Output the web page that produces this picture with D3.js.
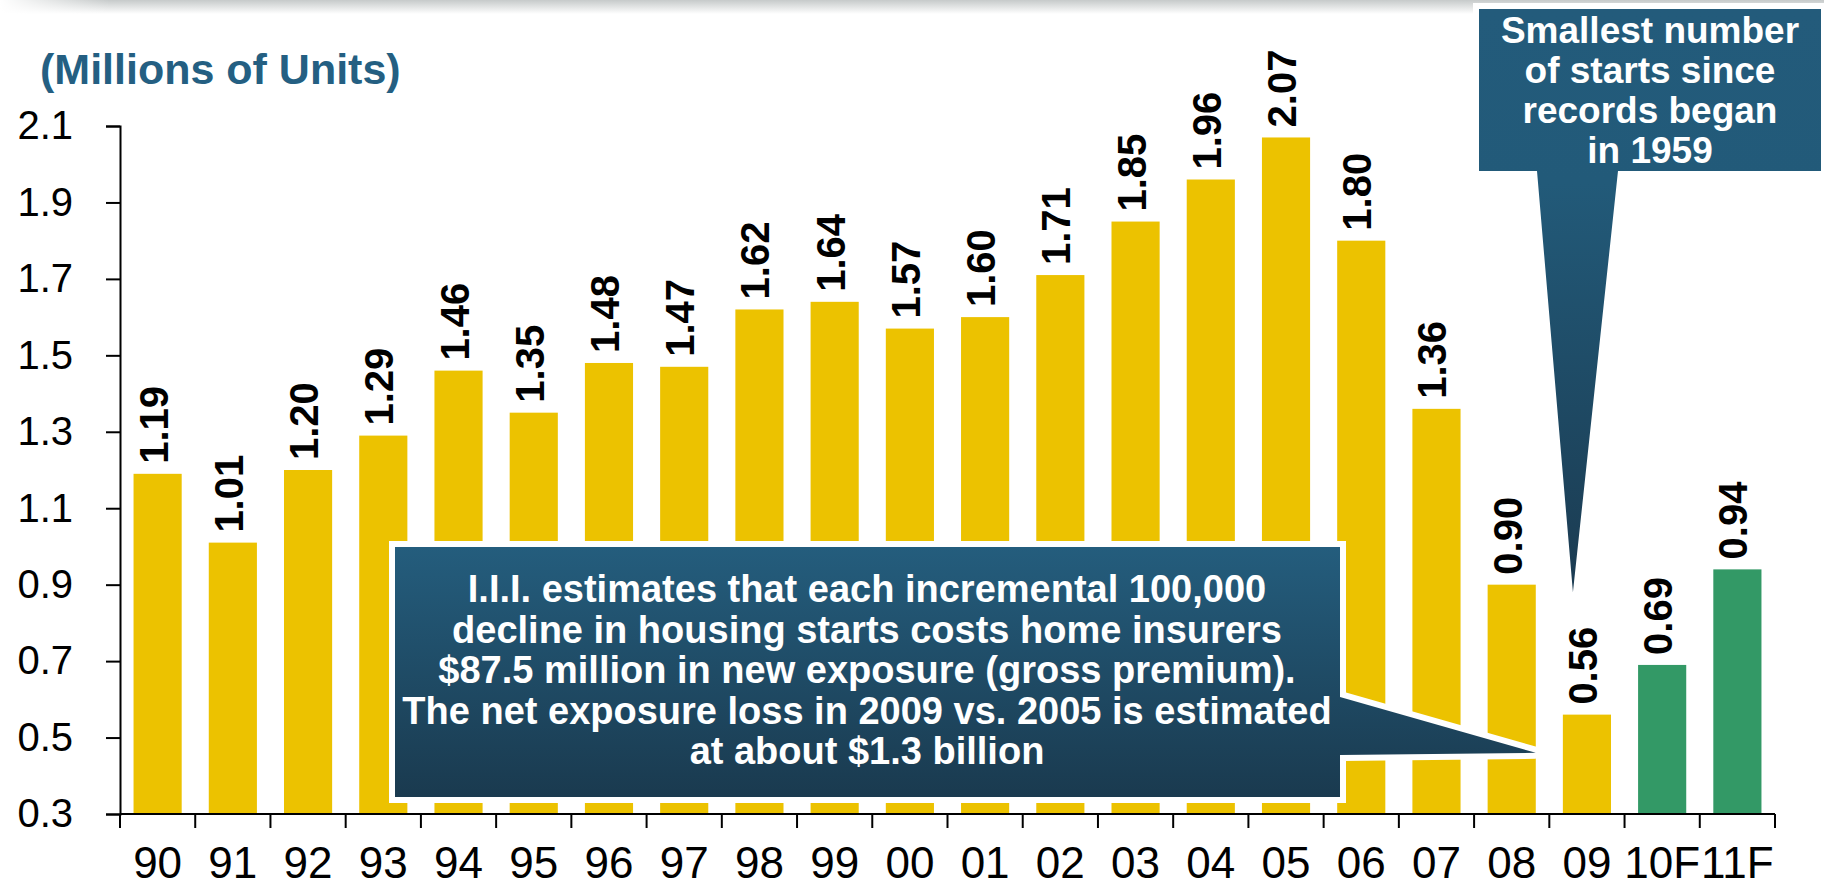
<!DOCTYPE html>
<html>
<head>
<meta charset="utf-8">
<script src="https://cdn.jsdelivr.net/npm/d3@7"></script>
<style>
  body { margin: 0; background: #fff; }
  text { font-family: "Liberation Sans", Arial, Helvetica, sans-serif; }
</style>
</head>
<body>
<script>
// housing starts per jaar (miljoenen)
var years = ["90","91","92","93","94","95","96","97","98","99","00","01","02","03","04","05","06","07","08","09","10F","11F"]
var starts = [1.19,1.01,1.20,1.29,1.46,1.35,1.48,1.47,1.62,1.64,1.57,1.60,1.71,1.85,1.96,2.07,1.80,1.36,0.90,0.56,0.69,0.94]
var forecastYears = ["10F","11F"]
var yTicks = [0.3,0.5,0.7,0.9,1.1,1.3,1.5,1.7,1.9,2.1]

var noteLines = [
  "I.I.I. estimates that each incremental 100,000",
  "decline in housing starts costs home insurers",
  "$87.5 million in new exposure (gross premium).",
  "The net exposure loss in 2009 vs. 2005 is estimated",
  "at about $1.3 billion"
]
var recordLines = ["Smallest number", "of starts since", "records began", "in 1959"]

var data = years.map((y, i) => ({year: y, value: starts[i]}))

var width = 1824
var height = 880
var margin = {top: 126, right: 49, bottom: 66, left: 120}

var yellow = "#ecc200"
var green = "#339966"
var blue = "#245f82"

var svg = d3.select("body").append("svg")
    .attr("width", width)
    .attr("height", height)

var defs = svg.append("defs")

// grijze balk bovenaan
var topGrad = defs.append("linearGradient").attr("id", "topbar").attr("x1", 0).attr("x2", 0).attr("y1", 0).attr("y2", 1)
topGrad.append("stop").attr("offset", "0%").attr("stop-color", "#c6caca")
topGrad.append("stop").attr("offset", "100%").attr("stop-color", "#ffffff")
var fadeGrad = defs.append("linearGradient").attr("id", "topfade")
fadeGrad.append("stop").attr("offset", "0%").attr("stop-color", "#fff").attr("stop-opacity", 1)
fadeGrad.append("stop").attr("offset", "6%").attr("stop-color", "#fff").attr("stop-opacity", 0)

var boxGrad = defs.append("linearGradient").attr("id", "boxgrad").attr("x1", 0).attr("x2", 0).attr("y1", 0).attr("y2", 1)
boxGrad.append("stop").attr("offset", "0%").attr("stop-color", "#245d7d")
boxGrad.append("stop").attr("offset", "100%").attr("stop-color", "#1a3a4f")

var pinGrad = defs.append("linearGradient").attr("id", "pingrad").attr("gradientUnits", "userSpaceOnUse")
    .attr("x1", 0).attr("x2", 0).attr("y1", 9).attr("y2", 592)
pinGrad.append("stop").attr("offset", "0%").attr("stop-color", "#235b7b")
pinGrad.append("stop").attr("offset", "30%").attr("stop-color", "#225a79")
pinGrad.append("stop").attr("offset", "100%").attr("stop-color", "#1b3b51")

svg.append("rect").attr("x", 0).attr("y", 0).attr("width", width).attr("height", 14).style("fill", "url(#topbar)")
svg.append("rect").attr("x", 0).attr("y", 0).attr("width", width).attr("height", 14).style("fill", "url(#topfade)")

var x = d3.scaleBand().domain(years).range([margin.left, width - margin.right]).paddingInner(0.36).paddingOuter(0.18)
var xEdge = d3.scaleBand().domain(years).range([margin.left, width - margin.right])
var y = d3.scaleLinear().domain([0.3, 2.1]).range([height - margin.bottom, margin.top])

// bars
svg.selectAll(".bar")
  .data(data)
  .enter().append("rect")
  .attr("class", "bar")
  .attr("x", d => x(d.year))
  .attr("y", d => y(d.value))
  .attr("width", x.bandwidth())
  .attr("height", d => y(0.3) - y(d.value))
  .style("fill", d => forecastYears.includes(d.year) ? green : yellow)

// waardes boven de bars, gedraaid
svg.selectAll(".val")
  .data(data)
  .enter().append("text")
  .attr("class", "val")
  .attr("transform", d => `translate(${x(d.year) + x.bandwidth() / 2 - 4},${y(d.value) - 10}) rotate(-90)`)
  .attr("dy", "0.35em")
  .style("text-anchor", "start")
  .style("font-size", "40px")
  .style("font-weight", "bold")
  .style("fill", "#000")
  .text(d => d.value.toFixed(2))

// y as
var yAxis = d3.axisLeft(y).tickValues(yTicks).tickSize(14).tickSizeOuter(14).tickPadding(33).tickFormat(d3.format(".1f"))
var gy = svg.append("g")
   .attr("transform", `translate(${margin.left},0)`)
   .call(yAxis)
gy.selectAll("line, path").style("stroke", "#000").style("stroke-width", 2)
gy.selectAll("text").style("font-size", "40px").style("fill", "#000").style("font-family", "'Liberation Sans', Arial, sans-serif")

// x as, ticks tussen de jaren
var xAxis = d3.axisBottom(x).tickSize(0).tickPadding(33)
var gx = svg.append("g")
   .attr("transform", `translate(0,${y(0.3)})`)
   .call(xAxis)
gx.select(".domain").remove()
gx.selectAll("text").style("font-size", "44px").style("fill", "#000").style("font-family", "'Liberation Sans', Arial, sans-serif")

var edges = years.map(d => xEdge(d)).concat([width - margin.right])
svg.append("line")
   .attr("x1", margin.left).attr("x2", width - margin.right)
   .attr("y1", y(0.3)).attr("y2", y(0.3))
   .style("stroke", "#000").style("stroke-width", 2)
svg.selectAll(".xtick")
  .data(edges)
  .enter().append("line")
  .attr("class", "xtick")
  .attr("x1", d => d).attr("x2", d => d)
  .attr("y1", y(0.3)).attr("y2", y(0.3) + 14)
  .style("stroke", "#000").style("stroke-width", 2)

// titel
svg.append("text")
   .attr("x", 40)
   .attr("y", 84)
   .style("font-size", "43px")
   .style("font-weight", "bold")
   .style("fill", blue)
   .text("(Millions of Units)")

// grote callout met pijl naar 2008/2009
var tipX = x("08") + x.bandwidth()
var tipY = y(0.46)
var notePath = `M395,547 L1340,547 L1340,697 L${tipX},${tipY} L1340,755 L1340,797 L395,797 Z`
svg.append("path").attr("d", notePath)
   .style("fill", "#fff").style("stroke", "#fff").style("stroke-width", 12).style("stroke-linejoin", "miter")
svg.append("path").attr("d", notePath).style("fill", "url(#boxgrad)")

svg.selectAll(".note")
  .data(noteLines)
  .enter().append("text")
  .attr("class", "note")
  .attr("x", 867)
  .attr("y", (d, i) => 602 + i * 40.5)
  .style("text-anchor", "middle")
  .style("font-size", "38px")
  .style("font-weight", "bold")
  .style("fill", "#fff")
  .text(d => d)

// callout rechtsboven
var pinX = x("09") + x.bandwidth() / 2 - 14
var pinY = y(0.88)
var recPath = `M1479,9 L1821,9 L1821,171 L1618,171 L${pinX},${pinY} L1537,171 L1479,171 Z`
svg.append("path").attr("d", recPath)
   .style("fill", "#fff").style("stroke", "#fff").style("stroke-width", 12).style("stroke-linejoin", "miter")
svg.append("path").attr("d", recPath).style("fill", "url(#pingrad)")

svg.selectAll(".rec")
  .data(recordLines)
  .enter().append("text")
  .attr("class", "rec")
  .attr("x", 1650)
  .attr("y", (d, i) => 43 + i * 40)
  .style("text-anchor", "middle")
  .style("font-size", "37px")
  .style("font-weight", "bold")
  .style("fill", "#fff")
  .text(d => d)
</script>
</body>
</html>
